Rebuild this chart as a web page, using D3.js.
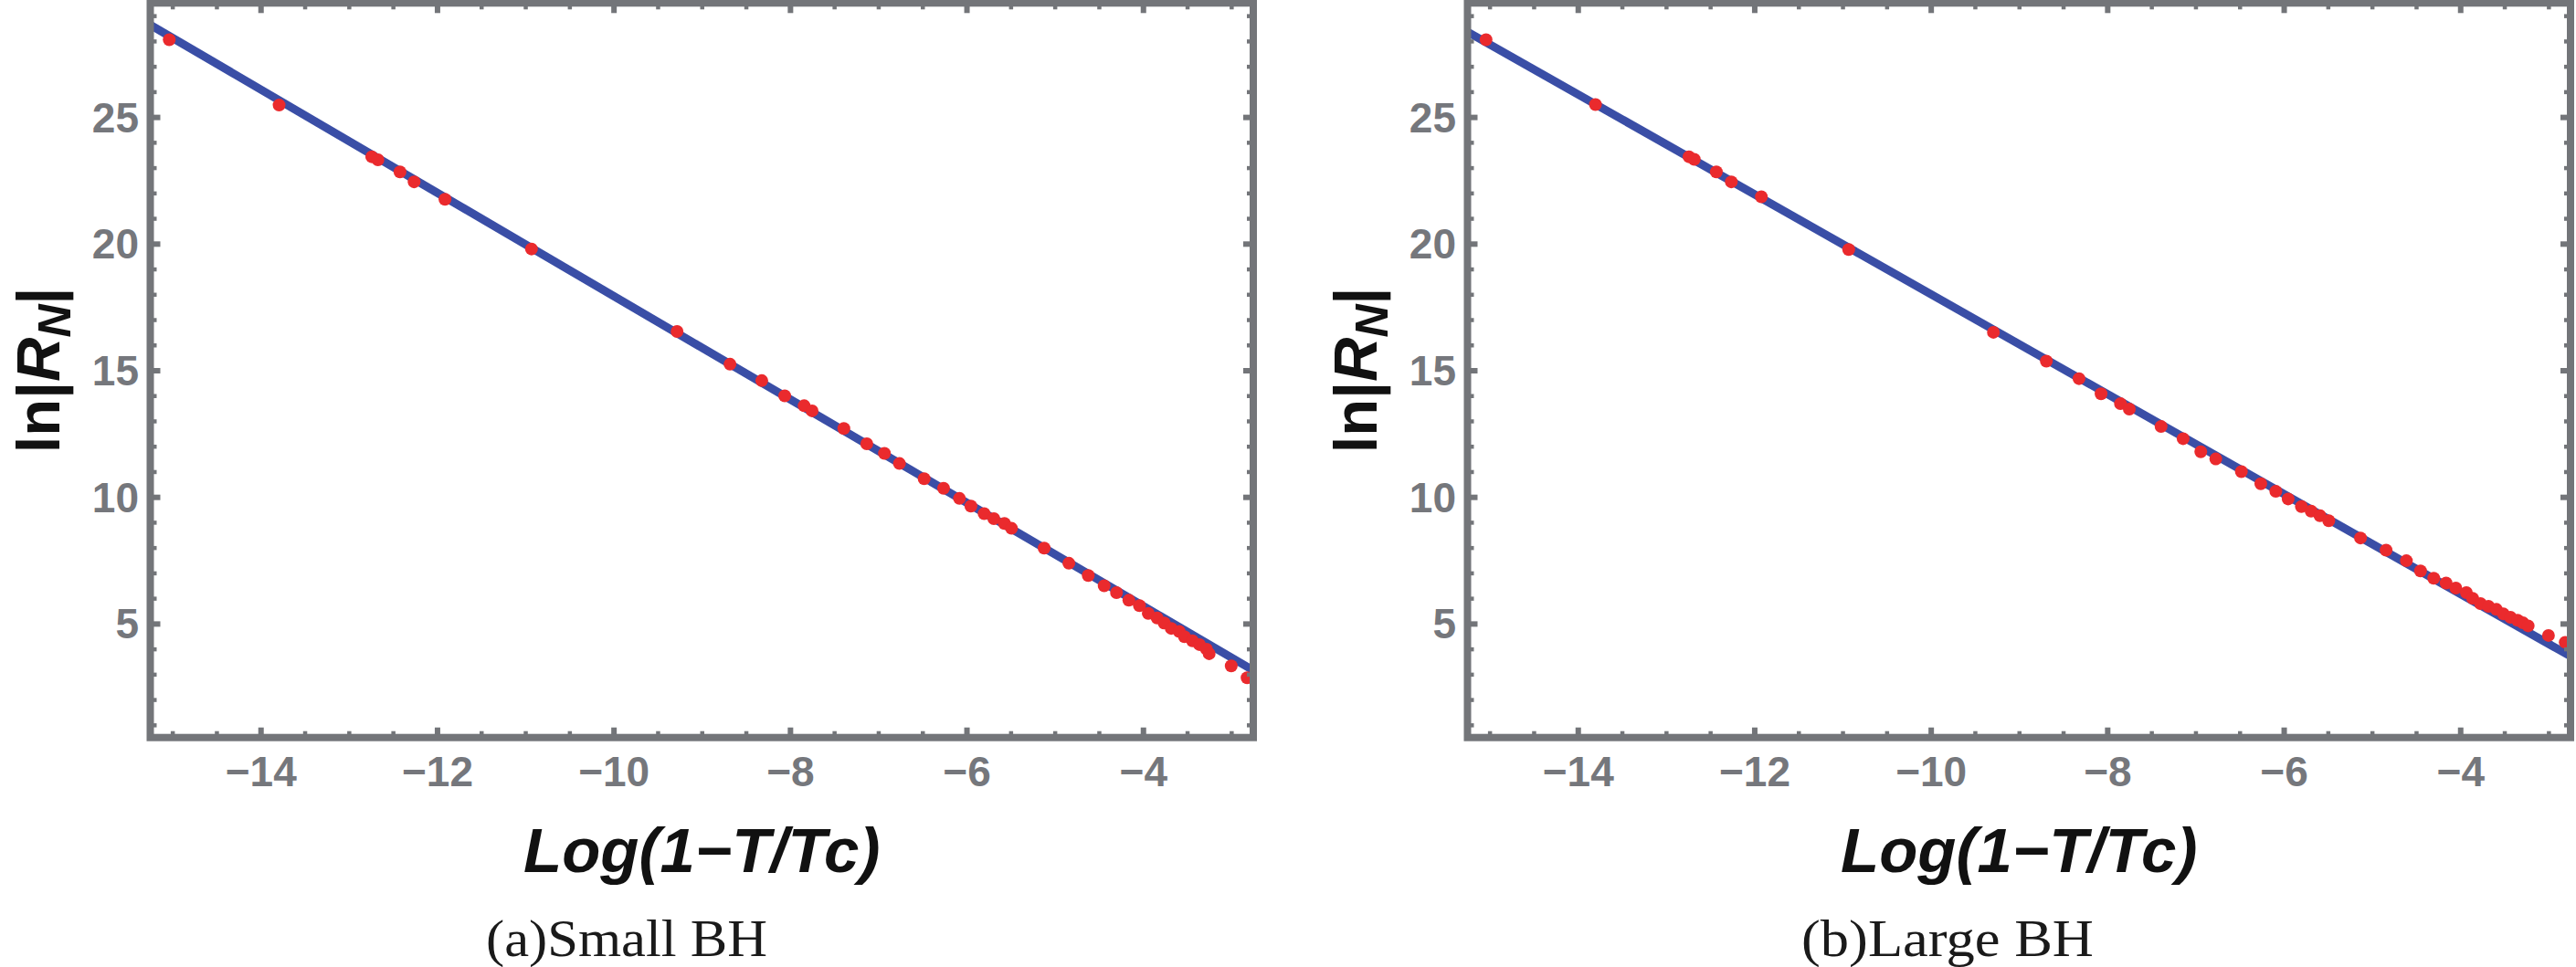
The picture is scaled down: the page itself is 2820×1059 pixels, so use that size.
<!DOCTYPE html>
<html>
<head>
<meta charset="utf-8">
<script src="https://cdn.jsdelivr.net/npm/d3@7"></script>
<style>
  html, body { margin: 0; padding: 0; background: #ffffff; }
  svg { display: block; }
</style>
</head>
<body>
<svg id="chart" width="2820" height="1059"></svg>
<script>
// ---------------- data ----------------
const xSmall = [-15.035, -13.79, -12.74, -12.67, -12.42, -12.26, -11.91, -10.93, -9.28, -8.68,
  -8.32, -8.06, -7.84, -7.75, -7.39, -7.13, -6.93, -6.76, -6.48, -6.26,
  -6.08, -5.95, -5.80, -5.69, -5.57, -5.49, -5.12, -4.84, -4.62, -4.44,
  -4.30, -4.16, -4.04, -3.94, -3.84, -3.76, -3.68, -3.59, -3.53, -3.44,
  -3.36, -3.28, -3.25, -3.00, -2.82];
const ySmall = [28.05, 25.47, 23.43, 23.31, 22.83, 22.44, 21.75, 19.79, 16.53, 15.24,
  14.59, 13.99, 13.60, 13.40, 12.70, 12.10, 11.72, 11.32, 10.72, 10.34,
  9.94, 9.64, 9.34, 9.14, 8.95, 8.76, 7.98, 7.38, 6.90, 6.49,
  6.22, 5.92, 5.71, 5.40, 5.22, 5.02, 4.81, 4.69, 4.48, 4.32,
  4.17, 3.99, 3.81, 3.33, 2.86];

const xLarge = [-15.04, -13.80, -12.74, -12.68, -12.43, -12.26, -11.92, -10.93, -9.29, -8.69,
  -8.32, -8.07, -7.85, -7.75, -7.39, -7.14, -6.94, -6.77, -6.48, -6.26,
  -6.09, -5.95, -5.80, -5.69, -5.59, -5.49, -5.13, -4.84, -4.61, -4.45,
  -4.30, -4.16, -4.05, -3.93, -3.86, -3.77, -3.68, -3.59, -3.51, -3.43,
  -3.35, -3.29, -3.23, -3.00, -2.81];
const yLarge = [28.05, 25.49, 23.43, 23.33, 22.83, 22.44, 21.85, 19.77, 16.50, 15.36,
  14.67, 14.07, 13.68, 13.47, 12.78, 12.30, 11.78, 11.50, 11.00, 10.52,
  10.22, 9.92, 9.62, 9.44, 9.26, 9.06, 8.38, 7.90, 7.48, 7.08,
  6.79, 6.60, 6.40, 6.22, 6.00, 5.79, 5.68, 5.56, 5.38, 5.25,
  5.13, 5.03, 4.91, 4.53, 4.26];

// fitted straight line, end points
const fitX = [-15.3, -2.7];
const fitSmallY = [28.74, 3.05];
const fitLargeY = [28.46, 3.61];

const xMajorTicks = [-14, -12, -10, -8, -6, -4];
const xMinorTicks = [-15, -14.5, -13.5, -13, -12.5, -11.5, -11, -10.5, -9.5, -9, -8.5, -7.5, -7, -6.5, -5.5, -5, -4.5, -3.5, -3];
const yMajorTicks = [5, 10, 15, 20, 25];
const yMinorTicks = [1, 2, 3, 4, 6, 7, 8, 9, 11, 12, 13, 14, 16, 17, 18, 19, 21, 22, 23, 24, 26, 27, 28, 29];

const xDomain = [-15.25, -2.75];
const yDomain = [0.5, 29.5];

const xLabel = "Log(1\u2212T/Tc)";
const captions = ["(a)Small BH", "(b)Large BH"];

// ---------------- drawing ----------------
const svg = d3.select("#chart");
const FRAME = "#737579";
const LABEL = "#75777c";
const RED = "#ea2a2d";
const BLUE = "#3a4ea6";

const panels = [
  { dx: 0,    xs: xSmall, ys: ySmall, fitY: fitSmallY, caption: captions[0], capX: 686, capW: 308 },
  { dx: 1442, xs: xLarge, ys: yLarge, fitY: fitLargeY, caption: captions[1], capX: 2132 - 1442, capW: 320 }
];

panels.forEach((p, i) => {
  const g = svg.append("g").attr("transform", `translate(${p.dx},0)`);
  const x = d3.scaleLinear().domain(xDomain).range([164.5, 1372]);
  const y = d3.scaleLinear().domain(yDomain).range([807.7, 3.3]);

  const clipId = "clip" + i;
  g.append("clipPath").attr("id", clipId)
    .append("rect")
    .attr("x", x.range()[0]).attr("y", y.range()[1])
    .attr("width", x.range()[1] - x.range()[0])
    .attr("height", y.range()[0] - y.range()[1]);

  const plot = g.append("g").attr("clip-path", `url(#${clipId})`);

  // fitted line
  const lineData = fitX.map((v, k) => [v, p.fitY[k]]);
  plot.append("path")
    .datum(lineData)
    .attr("d", d3.line().x(d => x(d[0])).y(d => y(d[1])))
    .attr("fill", "none")
    .attr("stroke", BLUE)
    .attr("stroke-width", 9);

  // data points
  plot.selectAll("circle.pt")
    .data(p.xs.map((v, k) => [v, p.ys[k]]))
    .join("circle")
    .attr("class", "pt")
    .attr("cx", d => x(d[0]))
    .attr("cy", d => y(d[1]))
    .attr("r", 7)
    .attr("fill", RED);

  // axes (ticks inward, on all four sides)
  function styleAxis(sel, width) {
    sel.select(".domain").remove();
    sel.selectAll(".tick line").attr("stroke", FRAME).attr("stroke-width", width);
  }
  const y0 = y.range()[0], y1 = y.range()[1];
  const x0 = x.range()[0], x1 = x.range()[1];

  // bottom
  const gb = g.append("g").attr("transform", `translate(0,${y0})`)
    .call(d3.axisBottom(x).tickValues(xMajorTicks).tickSize(-11).tickFormat(d3.format("d")));
  styleAxis(gb, 6);
  gb.selectAll(".tick text")
    .attr("y", 53).attr("dy", null)
    .attr("fill", LABEL)
    .style("font-family", "'Liberation Sans', Arial, sans-serif")
    .style("font-weight", "bold")
    .style("font-size", "46px");
  const gbm = g.append("g").attr("transform", `translate(0,${y0})`)
    .call(d3.axisBottom(x).tickValues(xMinorTicks).tickSize(-7).tickFormat(""));
  styleAxis(gbm, 4.5);

  // top
  const gt = g.append("g").attr("transform", `translate(0,${y1})`)
    .call(d3.axisTop(x).tickValues(xMajorTicks).tickSize(-11).tickFormat(""));
  styleAxis(gt, 6);
  const gtm = g.append("g").attr("transform", `translate(0,${y1})`)
    .call(d3.axisTop(x).tickValues(xMinorTicks).tickSize(-7).tickFormat(""));
  styleAxis(gtm, 4.5);

  // left
  const gl = g.append("g").attr("transform", `translate(${x0},0)`)
    .call(d3.axisLeft(y).tickValues(yMajorTicks).tickSize(-11).tickPadding(12));
  styleAxis(gl, 6);
  gl.selectAll(".tick text")
    .attr("x", -12.5).attr("dy", "0.35em")
    .attr("fill", LABEL)
    .style("font-family", "'Liberation Sans', Arial, sans-serif")
    .style("font-weight", "bold")
    .style("font-size", "46px");
  const glm = g.append("g").attr("transform", `translate(${x0},0)`)
    .call(d3.axisLeft(y).tickValues(yMinorTicks).tickSize(-7).tickFormat(""));
  styleAxis(glm, 4.5);

  // right
  const gr = g.append("g").attr("transform", `translate(${x1},0)`)
    .call(d3.axisRight(y).tickValues(yMajorTicks).tickSize(-11).tickFormat(""));
  styleAxis(gr, 6);
  const grm = g.append("g").attr("transform", `translate(${x1},0)`)
    .call(d3.axisRight(y).tickValues(yMinorTicks).tickSize(-7).tickFormat(""));
  styleAxis(grm, 4.5);

  // frame
  g.append("rect")
    .attr("x", x0).attr("y", y1)
    .attr("width", x1 - x0).attr("height", y0 - y1)
    .attr("fill", "none")
    .attr("stroke", FRAME)
    .attr("stroke-width", 8);

  // x axis label
  g.append("text")
    .attr("x", (x0 + x1) / 2).attr("y", 955)
    .attr("text-anchor", "middle")
    .attr("fill", "#111111")
    .style("font-family", "'Liberation Sans', Arial, sans-serif")
    .style("font-weight", "bold")
    .style("font-style", "italic")
    .style("font-size", "69px")
    .text(xLabel);

  // y axis label: ln|R_N|
  const yl = g.append("text")
    .attr("transform", `translate(65,${(y0 + y1) / 2}) rotate(-90)`)
    .attr("text-anchor", "middle")
    .attr("fill", "#111111")
    .style("font-family", "'Liberation Sans', Arial, sans-serif")
    .style("font-weight", "bold")
    .style("font-size", "67px");
  yl.append("tspan").text("ln|");
  yl.append("tspan").style("font-style", "italic").text("R");
  yl.append("tspan").style("font-style", "italic").style("font-size", "50px").attr("dy", 12).text("N");
  yl.append("tspan").attr("dy", -12).text("|");

  // caption
  g.append("text")
    .attr("x", p.capX - p.capW / 2).attr("y", 1047)
    .attr("textLength", p.capW)
    .attr("lengthAdjust", "spacingAndGlyphs")
    .attr("fill", "#1a1a1a")
    .style("font-family", "'Liberation Serif', 'Times New Roman', serif")
    .style("font-size", "56px")
    .text(p.caption);
});
</script>
</body>
</html>
